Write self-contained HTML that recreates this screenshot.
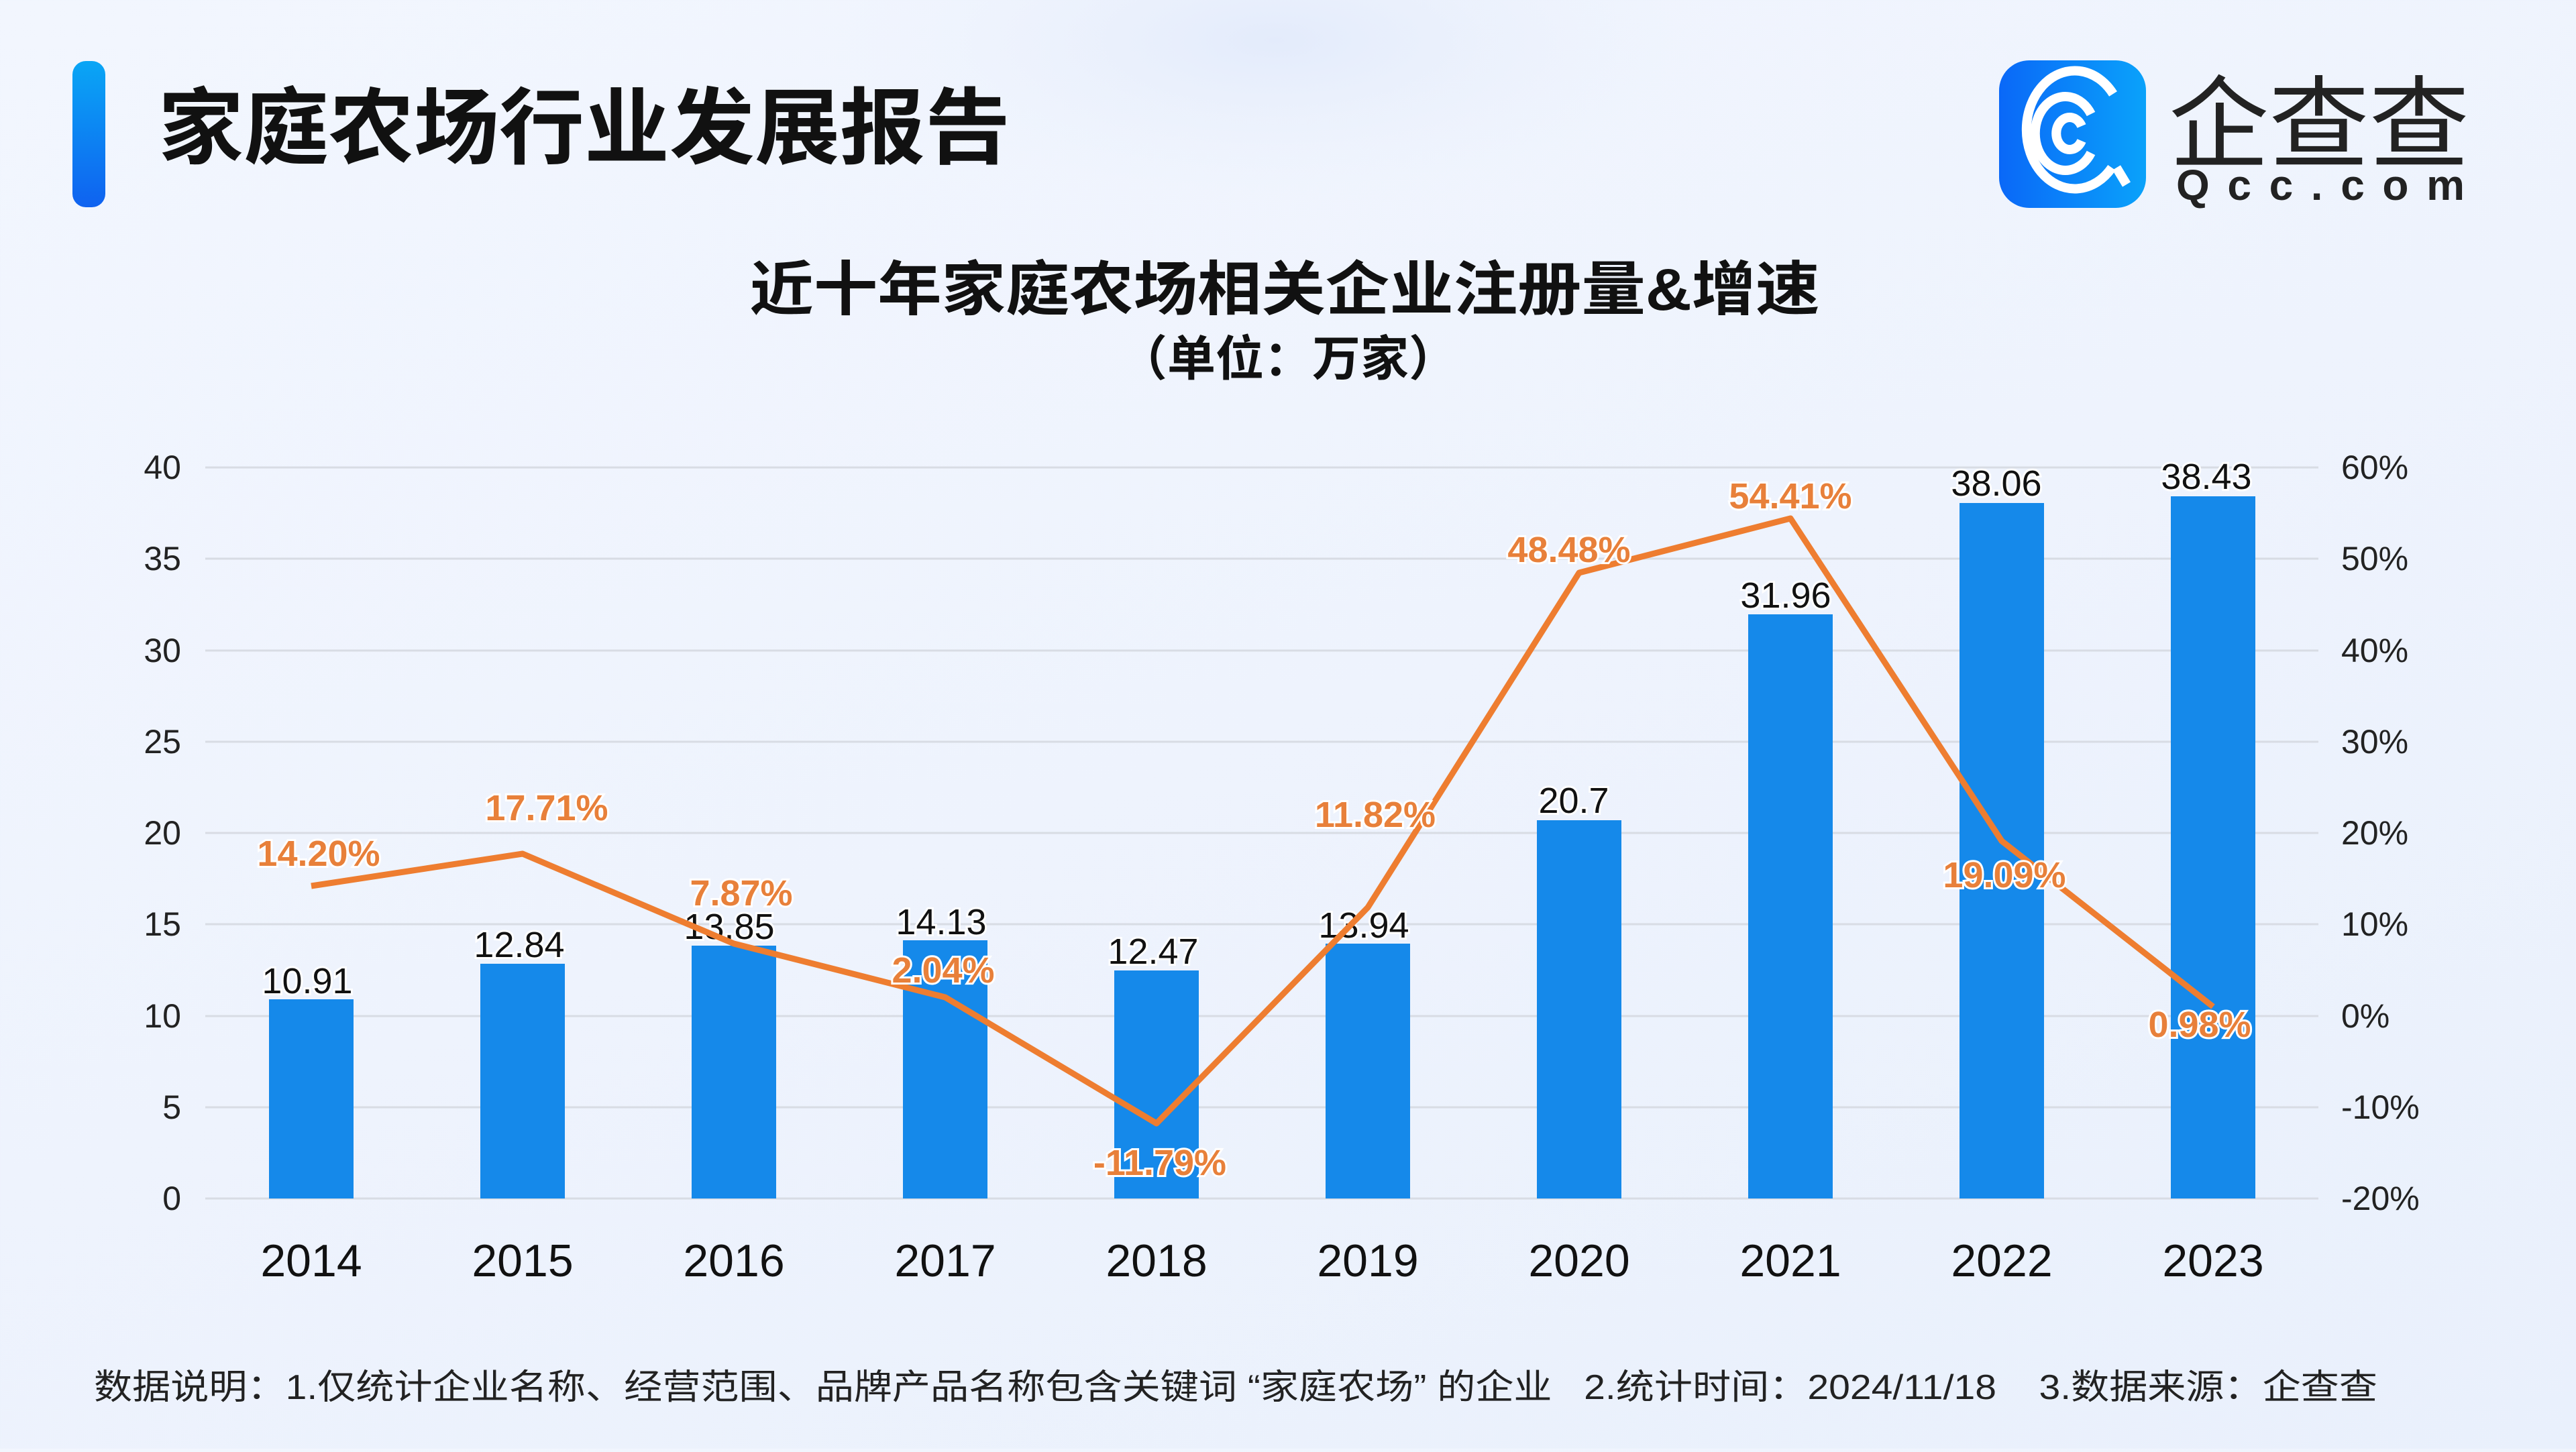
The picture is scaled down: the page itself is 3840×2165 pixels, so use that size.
<!DOCTYPE html>
<html><head><meta charset="utf-8">
<style>
html,body{margin:0;padding:0;}
body{width:3840px;height:2160px;overflow:hidden;background:linear-gradient(160deg,#f2f6fe 0%,#eef3fd 50%,#e9f0fc 100%);}
svg text{font-family:"Liberation Sans","Noto Sans CJK SC",sans-serif;}
</style></head><body>
<svg width="3840" height="2160" viewBox="0 0 3840 2160" xmlns="http://www.w3.org/2000/svg">
<defs>
<linearGradient id="bar" x1="0" y1="0" x2="0" y2="1"><stop offset="0" stop-color="#0aa6f5"/><stop offset="1" stop-color="#0f62f0"/></linearGradient>
<linearGradient id="logo" x1="0" y1="0" x2="1" y2="0"><stop offset="0" stop-color="#0a68f8"/><stop offset="1" stop-color="#0aa2fa"/></linearGradient>
<radialGradient id="glow" cx="0.5" cy="0.5" r="0.5"><stop offset="0" stop-color="#e3ebfb"/><stop offset="1" stop-color="#eef3fd" stop-opacity="0"/></radialGradient>
</defs>
<ellipse cx="1900" cy="60" rx="700" ry="260" fill="url(#glow)"/>
<rect x="108" y="91" width="49" height="218" rx="20" fill="url(#bar)"/>
<text x="236" y="234" font-size="124" font-weight="bold" fill="#111" textLength="1270" lengthAdjust="spacingAndGlyphs">家庭农场行业发展报告</text>
<rect x="2980" y="90" width="219" height="220" rx="45" fill="url(#logo)"/>
<g fill="none" stroke="#fff" stroke-width="14" stroke-linecap="butt">
<path d="M3148 250 A72 88 0 1 1 3150 140"/>
<path d="M3155 250 L3170 275"/>
<path d="M3117 228 A45 55 0 1 1 3117 170"/>
<path d="M3103 210 A20 24 0 1 1 3103 188"/>
</g>
<text x="3233" y="238" font-size="150" fill="#222" textLength="448" lengthAdjust="spacingAndGlyphs">企查查</text>
<text x="3244" y="298" font-size="64" font-weight="bold" fill="#222" textLength="430" lengthAdjust="spacing">Qcc.com</text>
<text x="1915" y="462" font-size="88" font-weight="bold" fill="#111" text-anchor="middle" textLength="1595" lengthAdjust="spacingAndGlyphs">近十年家庭农场相关企业注册量&amp;增速</text>
<text x="1920" y="560" font-size="72" font-weight="bold" fill="#111" text-anchor="middle">（单位：万家）</text>
<g stroke="#d8dce4" stroke-width="3">
<line x1="306" y1="697" x2="3456" y2="697"/><line x1="306" y1="833" x2="3456" y2="833"/>
<line x1="306" y1="970" x2="3456" y2="970"/><line x1="306" y1="1106" x2="3456" y2="1106"/>
<line x1="306" y1="1242" x2="3456" y2="1242"/><line x1="306" y1="1378" x2="3456" y2="1378"/>
<line x1="306" y1="1515" x2="3456" y2="1515"/><line x1="306" y1="1651" x2="3456" y2="1651"/>
<line x1="306" y1="1787" x2="3456" y2="1787"/>
</g>
<g font-size="50" fill="#222" text-anchor="end">
<text x="270" y="714">40</text><text x="270" y="850">35</text><text x="270" y="987">30</text>
<text x="270" y="1123">25</text><text x="270" y="1259">20</text><text x="270" y="1395">15</text>
<text x="270" y="1532">10</text><text x="270" y="1668">5</text><text x="270" y="1804">0</text>
</g>
<g font-size="50" fill="#222">
<text x="3490" y="714">60%</text><text x="3490" y="850">50%</text><text x="3490" y="987">40%</text>
<text x="3490" y="1123">30%</text><text x="3490" y="1259">20%</text><text x="3490" y="1395">10%</text>
<text x="3490" y="1532">0%</text><text x="3490" y="1668">-10%</text><text x="3490" y="1804">-20%</text>
</g>
<g fill="#1589ea">
<rect x="401" y="1490" width="126" height="297"/>
<rect x="716" y="1437" width="126" height="350"/>
<rect x="1031" y="1410" width="126" height="377"/>
<rect x="1346" y="1402" width="126" height="385"/>
<rect x="1661" y="1447" width="126" height="340"/>
<rect x="1976" y="1407" width="126" height="380"/>
<rect x="2291" y="1223" width="126" height="564"/>
<rect x="2606" y="916" width="126" height="871"/>
<rect x="2921" y="750" width="126" height="1037"/>
<rect x="3236" y="740" width="126" height="1047"/>
</g>
<g font-size="68" fill="#111" text-anchor="middle">
<text x="464" y="1903">2014</text><text x="779" y="1903">2015</text><text x="1094" y="1903">2016</text>
<text x="1409" y="1903">2017</text><text x="1724" y="1903">2018</text><text x="2039" y="1903">2019</text>
<text x="2354" y="1903">2020</text><text x="2669" y="1903">2021</text><text x="2984" y="1903">2022</text>
<text x="3299" y="1903">2023</text>
</g>
<g font-size="54" fill="#111" text-anchor="middle" stroke="#fff" stroke-width="6" paint-order="stroke">
<text x="458" y="1481">10.91</text><text x="774" y="1427">12.84</text><text x="1087" y="1400">13.85</text>
<text x="1403" y="1393">14.13</text><text x="1719" y="1437">12.47</text><text x="2033" y="1398">13.94</text>
<text x="2346" y="1212">20.7</text><text x="2662" y="906">31.96</text><text x="2976" y="739">38.06</text>
<text x="3289" y="729">38.43</text>
</g>
<polyline fill="none" stroke="#ee7d30" stroke-width="9" stroke-linejoin="round" points="464,1321 779,1273 1094,1407 1409,1487 1724,1675 2039,1353 2354,854 2669,773 2984,1254 3299,1501"/>
<g font-size="54" font-weight="bold" fill="#e8803a" text-anchor="middle" stroke="#fff" stroke-width="6" paint-order="stroke">
<text x="475" y="1291">14.20%</text><text x="815" y="1223">17.71%</text><text x="1105" y="1350">7.87%</text>
<text x="1406" y="1465">2.04%</text><text x="1729" y="1752">-11.79%</text><text x="2050" y="1233">11.82%</text>
<text x="2339" y="838">48.48%</text><text x="2669" y="758">54.41%</text><text x="2988" y="1323">19.09%</text>
<text x="3279" y="1546">0.98%</text>
</g>
<text x="140" y="2086" font-size="52" fill="#222" textLength="3404" lengthAdjust="spacingAndGlyphs">数据说明：1.仅统计企业名称、经营范围、品牌产品名称包含关键词 “家庭农场” 的企业&#160;&#160;&#160;2.统计时间：2024/11/18&#160;&#160;&#160;&#160;3.数据来源：企查查</text>
</svg>
</body></html>
